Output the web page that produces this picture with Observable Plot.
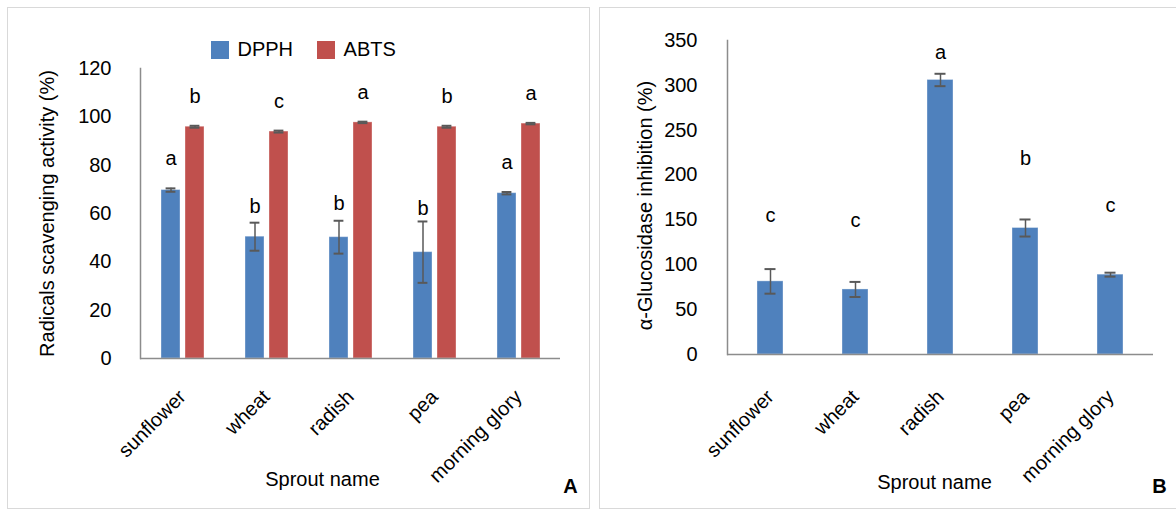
<!DOCTYPE html>
<html>
<head>
<meta charset="utf-8">
<script src="https://cdn.jsdelivr.net/npm/d3@7"></script>
<script src="https://cdn.jsdelivr.net/npm/@observablehq/plot@0.6"></script>
<style>
html, body { margin: 0; padding: 0; background: #fff; }
#root { position: relative; width: 1176px; height: 509px; overflow: hidden; background: #fff; font-family: "Liberation Sans", Arial, sans-serif; }
.panel { position: absolute; border: 1px solid #d9d9d9; box-sizing: border-box; }
.lg-swatches { margin: 0; font-family: "Liberation Sans", Arial, sans-serif; font-size: 20px; color: #000; }
.lg-swatches-wrap { min-height: 0; }
.lg-swatch { margin-right: 24px; }
.lg-swatch > svg { margin-right: 8.5px; }
#legendA { position: absolute; left: 211px; top: 38px; }
</style>
</head>
<body>
<div id="root">
  <div class="panel" style="left:7px;top:7px;width:583px;height:502px;"></div>
  <div class="panel" style="left:599px;top:7px;width:600px;height:502px;"></div>
</div>
<script>
// ---- data ----
const categories = ["sunflower", "wheat", "radish", "pea", "morning glory"];
const seriesNames = ["DPPH", "ABTS"];
const seriesColors = ["#4f81bd", "#c0504d"];

const dpphValues = [69.7, 50.4, 50.2, 44.0, 68.4];
const dpphErrors = [0.7, 5.8, 6.8, 12.7, 0.5];
const dpphLetters = ["a", "b", "b", "b", "a"];
const dpphLetterHeights = [82.8, 63.0, 64.0, 62.1, 81.2];

const abtsValues = [95.9, 93.9, 97.7, 95.9, 97.2];
const abtsErrors = [0.4, 0.4, 0.3, 0.4, 0.3];
const abtsLetters = ["b", "c", "a", "b", "a"];
const abtsLetterHeights = [108.4, 106.2, 109.9, 108.4, 109.5];

const glucValues = [81.5, 72.5, 306.0, 141.0, 89.0];
const glucErrors = [13.7, 8.4, 6.9, 9.5, 2.2];
const glucLetters = ["c", "c", "a", "b", "c"];
const glucLetterHeights = [155.1, 149.6, 336.3, 218.6, 166.3];

const yTicksA = [0, 20, 40, 60, 80, 100, 120];
const yTicksB = [0, 50, 100, 150, 200, 250, 300, 350];

const titleA = "Radicals scavenging activity (%)";
const titleB = "\u03b1-Glucosidase inhibition (%)";
const xTitle = "Sprout name";
const panelA = "A";
const panelB = "B";

// ---- tables ----
const rowsA = categories.flatMap((c, i) => [
  {category: c, series: seriesNames[0], value: dpphValues[i], err: dpphErrors[i], letter: dpphLetters[i], letterY: dpphLetterHeights[i]},
  {category: c, series: seriesNames[1], value: abtsValues[i], err: abtsErrors[i], letter: abtsLetters[i], letterY: abtsLetterHeights[i]}
]);
const rowsB = categories.map((c, i) => ({category: c, value: glucValues[i], err: glucErrors[i], letter: glucLetters[i], letterY: glucLetterHeights[i]}));

const FONT = '"Liberation Sans", Arial, sans-serif';
const errColor = "#595959";
const axisColor = "#8c8c8c";
const baseStyle = {fontFamily: FONT, fontSize: "20px", color: "#000", background: "transparent", overflow: "visible"};
const centered = {textAnchor: "middle", lineAnchor: "middle", fill: "#000"};

const chartA = Plot.plot({
  width: 590, height: 509,
  marginLeft: 140, marginRight: 30, marginTop: 68, marginBottom: 151,
  style: baseStyle,
  fx: {domain: categories, padding: 0},
  x: {domain: seriesNames, paddingInner: 5 / 24, paddingOuter: 0.854, axis: null},
  y: {domain: [0, 120]},
  color: {domain: seriesNames, range: seriesColors},
  marks: [
    Plot.barY(rowsA, {fx: "category", x: "series", y: "value", fill: "series", stroke: "#fff", strokeOpacity: 0.35, strokeWidth: 1}),
    Plot.ruleX(rowsA, {fx: "category", x: "series", y1: d => d.value - d.err, y2: d => d.value + d.err, stroke: errColor, strokeWidth: 1.5}),
    Plot.tickY(rowsA, {fx: "category", x: "series", y: d => d.value + d.err, stroke: errColor, strokeWidth: 2, insetLeft: 4.6, insetRight: 4.6}),
    Plot.tickY(rowsA, {fx: "category", x: "series", y: d => d.value - d.err, stroke: errColor, strokeWidth: 2, insetLeft: 4.6, insetRight: 4.6}),
    Plot.text(rowsA, {fx: "category", x: "series", y: "letterY", text: "letter", fill: "#000"}),
    Plot.ruleY([0], {stroke: axisColor, strokeWidth: 1.5}),
    Plot.frame({anchor: "left", facetAnchor: "left", stroke: axisColor, strokeWidth: 1.5}),
    Plot.axisY({ticks: yTicksA, tickSize: 0, tickPadding: 29, label: null}),
    Plot.axisFx({anchor: "bottom", tickRotate: -45, tickSize: 0, tickPadding: 35, dx: 0, label: null}),
    Plot.text([titleA], {facet: "super", frameAnchor: "left", rotate: -90, dx: -93, ...centered}),
    Plot.text([xTitle], {facet: "super", frameAnchor: "bottom", dx: -28, dy: 121, ...centered}),
    Plot.text([panelA], {facet: "super", frameAnchor: "bottom-right", dx: 10, dy: 128.5, fontWeight: "bold", ...centered})
  ]
});

const chartB = Plot.plot({
  width: 586, height: 509,
  marginLeft: 137, marginRight: 23, marginTop: 40, marginBottom: 155,
  style: baseStyle,
  x: {domain: categories, paddingInner: 0.689, paddingOuter: 0.3445},
  y: {domain: [0, 350]},
  marks: [
    Plot.barY(rowsB, {x: "category", y: "value", fill: seriesColors[0], stroke: "#fff", strokeOpacity: 0.35, strokeWidth: 1}),
    Plot.ruleX(rowsB, {x: "category", y1: d => d.value - d.err, y2: d => d.value + d.err, stroke: errColor, strokeWidth: 1.5}),
    Plot.tickY(rowsB, {x: "category", y: d => d.value + d.err, stroke: errColor, strokeWidth: 2, insetLeft: 7.5, insetRight: 7.5}),
    Plot.tickY(rowsB, {x: "category", y: d => d.value - d.err, stroke: errColor, strokeWidth: 2, insetLeft: 7.5, insetRight: 7.5}),
    Plot.text(rowsB, {x: "category", y: "letterY", text: "letter", fill: "#000"}),
    Plot.ruleY([0], {stroke: axisColor, strokeWidth: 1.5}),
    Plot.frame({anchor: "left", stroke: axisColor, strokeWidth: 1.5}),
    Plot.axisY({ticks: yTicksB, tickSize: 0, tickPadding: 30, label: null}),
    Plot.axisX({tickRotate: -45, tickSize: 0, tickPadding: 39, dx: 0, label: null}),
    Plot.text([titleB], {frameAnchor: "left", rotate: -90, dx: -82, dy: 8, ...centered}),
    Plot.text([xTitle], {frameAnchor: "bottom", dx: -6, dy: 128, ...centered}),
    Plot.text([panelB], {frameAnchor: "bottom-right", dx: 6, dy: 132.5, fontWeight: "bold", ...centered})
  ]
});

const root = document.getElementById("root");
chartA.style.position = "absolute"; chartA.style.left = "0px"; chartA.style.top = "0px";
chartB.style.position = "absolute"; chartB.style.left = "590px"; chartB.style.top = "0px";
root.appendChild(chartA);
root.appendChild(chartB);

const legend = Plot.legend({color: {domain: seriesNames, range: seriesColors}, swatchSize: 18, className: "lg"});
const legendWrap = document.createElement("div");
legendWrap.id = "legendA";
legendWrap.appendChild(legend);
root.appendChild(legendWrap);
</script>
</body>
</html>
